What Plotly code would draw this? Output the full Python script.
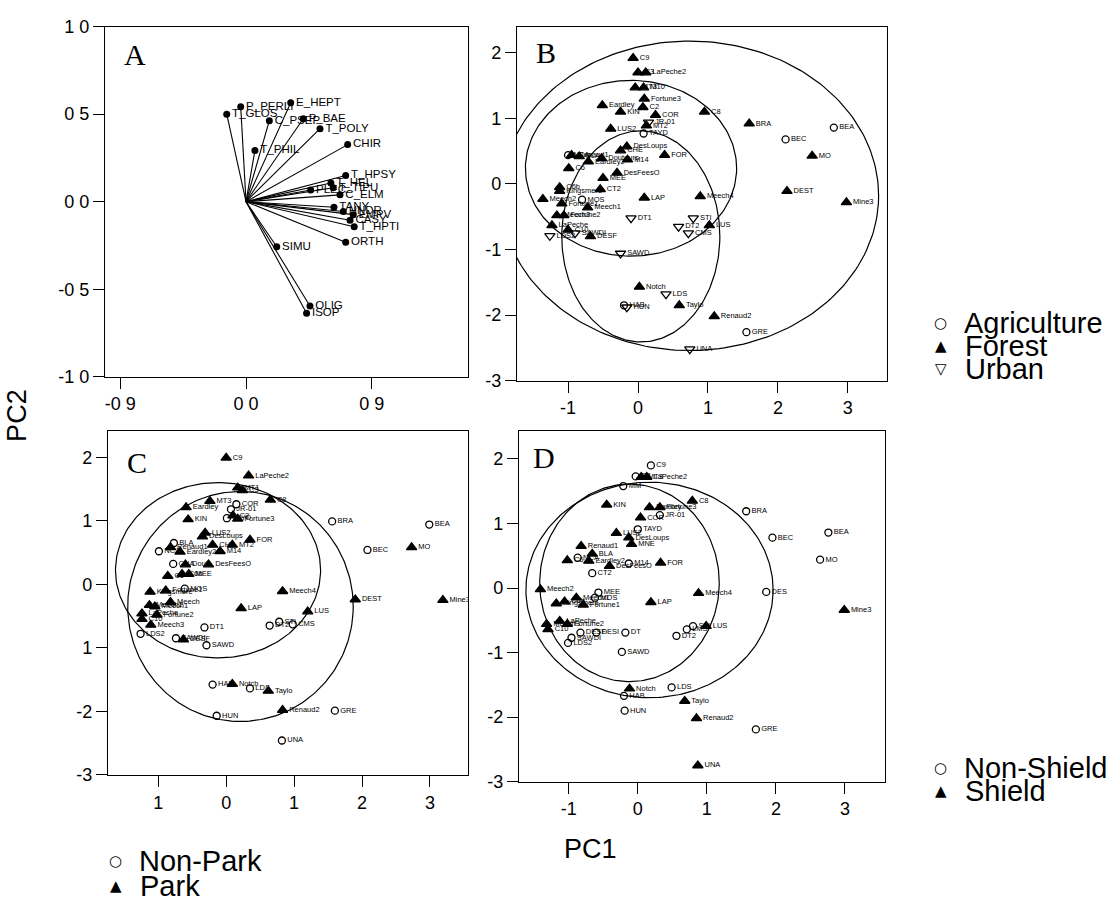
import numpy as np
import plotly.graph_objects as go

W, H = 1120, 910
SANS = "Liberation Sans, Arial, sans-serif"
SERIF = "Liberation Serif, Times New Roman, serif"

# ---------------- Panel A: variable loadings ----------------
A_vars = ["T_GLOS", "P_PERLI", "E_HEPT", "C_PSEP", "P_BAE", "T_POLY", "T_PHIL", "CHIR",
          "T_HPSY", "T_HEL", "T_TIPU", "PLEC", "C_ELM", "TANY", "HNDR", "EMPV", "CASY",
          "T_HPTI", "ORTH", "SIMU", "OLIG", "ISOP"]
A_pc1 = [-0.138, -0.038, 0.32, 0.167, 0.41, 0.53, 0.064, 0.728,
         0.714, 0.608, 0.625, 0.463, 0.673, 0.63, 0.697, 0.768, 0.745,
         0.775, 0.714, 0.22, 0.458, 0.434]
A_pc2 = [0.50, 0.543, 0.565, 0.463, 0.474, 0.417, 0.293, 0.326,
         0.15, 0.107, 0.08, 0.067, 0.039, -0.032, -0.056, -0.074, -0.106,
         -0.143, -0.232, -0.257, -0.596, -0.637]

# ---------------- Panel B: land use ----------------
B_sites = ["C9", "C3", "LaPeche2", "MT3", "M10", "Fortune3", "Eardley", "C2", "KIN", "COR",
           "C8", "JR-01", "MT2", "LUS2", "TAYD", "BRA", "BEA", "BEC", "MO", "DEST",
           "Mine3", "DesLoups", "CHE", "FOR", "M14", "NCA", "Renaud1", "BLA", "Eardley2", "Doutours",
           "C6", "DesFeesO", "MEE", "C6b", "Kingsmere", "CT2", "Meech2", "MOS", "LAP", "Meech4",
           "Fortune1", "Meech1", "Meech3", "Fortune2", "DT1", "STI", "LUS", "DT2", "CMS", "LaPeche",
           "C10", "SAWDI", "DESF", "LDS2", "SAWD", "Notch", "LDS", "HAB", "HUN", "Taylo",
           "Renaud2", "GRE", "UNA"]
B_pc1 = [-0.07, 0.00, 0.11, -0.04, 0.08, 0.09, -0.51, 0.07, -0.25, 0.25,
         0.95, 0.15, 0.12, -0.39, 0.08, 1.59, 2.80, 2.11, 2.49, 2.13,
         2.98, -0.16, -0.25, 0.38, -0.15, -1.00, -0.95, -0.84, -0.71, -0.52,
         -0.99, -0.30, -0.50, -1.12, -1.12, -0.54, -1.36, -0.80, 0.09, 0.89,
         -1.09, -0.72, -1.16, -1.06, -0.10, 0.79, 1.02, 0.58, 0.72, -1.23,
         -1.00, -0.90, -0.68, -1.26, -0.25, 0.02, 0.40, -0.20, -0.16, 0.59,
         1.09, 1.55, 0.74]
B_pc2 = [1.92, 1.70, 1.70, 1.47, 1.47, 1.30, 1.20, 1.17, 1.10, 1.05,
         1.10, 0.94, 0.89, 0.84, 0.77, 0.92, 0.86, 0.68, 0.43, -0.11,
         -0.28, 0.57, 0.51, 0.44, 0.37, 0.44, 0.44, 0.42, 0.34, 0.39,
         0.24, 0.17, 0.09, -0.05, -0.11, -0.08, -0.23, -0.24, -0.21, -0.19,
         -0.30, -0.36, -0.48, -0.48, -0.52, -0.52, -0.63, -0.65, -0.75, -0.63,
         -0.70, -0.75, -0.80, -0.79, -1.06, -1.57, -1.68, -1.85, -1.88, -1.85,
         -2.02, -2.26, -2.52]
B_landuse = ["Forest", "Forest", "Forest", "Forest", "Forest", "Forest", "Forest", "Forest", "Forest", "Forest",
             "Forest", "Urban", "Forest", "Forest", "Agriculture", "Forest", "Agriculture", "Agriculture", "Forest", "Forest",
             "Forest", "Forest", "Forest", "Forest", "Forest", "Agriculture", "Forest", "Forest", "Forest", "Forest",
             "Forest", "Forest", "Forest", "Forest", "Forest", "Forest", "Forest", "Agriculture", "Forest", "Forest",
             "Forest", "Forest", "Forest", "Forest", "Urban", "Urban", "Forest", "Urban", "Urban", "Forest",
             "Forest", "Urban", "Forest", "Urban", "Urban", "Forest", "Urban", "Agriculture", "Urban", "Forest",
             "Forest", "Agriculture", "Urban"]
B_ell_cx = [0.74, -0.10, 0.04]
B_ell_cy = [-0.18, 0.24, -0.80]
B_ell_rx = [2.70, 1.51, 1.13]
B_ell_ry = [2.36, 1.34, 1.61]

# ---------------- Panel C: park status ----------------
C_sites = ["C9", "LaPeche2", "MT1", "C3", "C8", "MT3", "COR", "Eardley", "JR-01", "C2",
           "Fortune3", "TAYD", "KIN", "BRA", "BEA", "LUS2", "DesLoups", "FOR", "MT2", "CHE",
           "M14", "BLA", "Renaud1", "NCA", "Eardley2", "BEC", "MO", "CHA", "Dout", "DesFeesO",
           "C6", "C6b", "MEE", "Kingsmere", "Fortune1", "MOS", "Meech4", "DEST", "Mine3", "Meech",
           "Meech2", "Meech1", "LAP", "LUS", "LaPeche", "C10", "Fortune2", "Meech3", "STI", "DT2",
           "CMS", "DT1", "LDS2", "SAWDI", "DESF", "SAWD", "HAB", "Notch", "LDS", "Taylo",
           "Renaud2", "GRE", "HUN", "UNA"]
C_pc1 = [0.00, 0.33, 0.17, 0.24, 0.65, -0.24, 0.15, -0.59, 0.07, 0.10,
         0.17, 0.01, -0.56, 1.56, 2.99, -0.31, -0.35, 0.35, 0.09, -0.20,
         -0.09, -0.77, -0.82, -0.99, -0.68, 2.08, 2.73, -0.78, -0.60, -0.26,
         -0.86, -0.65, -0.55, -1.12, -0.89, -0.61, 0.83, 1.90, 3.19, -0.82,
         -1.13, -1.05, 0.22, 1.20, -1.24, -1.24, -1.02, -1.11, 0.78, 0.64,
         0.98, -0.32, -1.26, -0.74, -0.63, -0.29, -0.20, 0.09, 0.35, 0.62,
         0.83, 1.60, -0.14, 0.82]
C_pc2 = [1.99, 1.71, 1.52, 1.48, 1.33, 1.31, 1.26, 1.21, 1.18, 1.08,
         1.03, 1.04, 1.02, 0.99, 0.94, 0.81, 0.75, 0.70, 0.62, 0.62,
         0.52, 0.65, 0.58, 0.52, 0.51, 0.54, 0.58, 0.32, 0.31, 0.31,
         0.13, 0.16, 0.16, -0.12, -0.10, -0.07, -0.11, -0.24, -0.25, -0.28,
         -0.33, -0.35, -0.38, -0.43, -0.46, -0.55, -0.48, -0.64, -0.59, -0.65,
         -0.63, -0.68, -0.78, -0.85, -0.87, -0.96, -1.58, -1.57, -1.64, -1.68,
         -1.98, -1.99, -2.07, -2.46]
C_park = ["Park", "Park", "Park", "Park", "Park", "Park", "Non-Park", "Park", "Non-Park", "Park",
          "Park", "Non-Park", "Park", "Non-Park", "Non-Park", "Park", "Park", "Park", "Park", "Park",
          "Park", "Non-Park", "Park", "Non-Park", "Park", "Non-Park", "Park", "Non-Park", "Park", "Park",
          "Park", "Park", "Park", "Park", "Park", "Non-Park", "Park", "Park", "Park", "Park",
          "Park", "Park", "Park", "Park", "Park", "Park", "Park", "Park", "Non-Park", "Non-Park",
          "Non-Park", "Non-Park", "Non-Park", "Non-Park", "Park", "Non-Park", "Non-Park", "Park", "Non-Park", "Park",
          "Park", "Non-Park", "Non-Park", "Non-Park"]
C_ell_cx = [-0.12, 0.21]
C_ell_cy = [0.22, -0.35]
C_ell_rx = [1.51, 1.66]
C_ell_ry = [1.38, 1.81]

# ---------------- Panel D: shield ----------------
D_sites = ["C9", "C3", "MT3", "LaPeche2", "MM", "C8", "KIN", "Eardley", "Fortune3", "COR",
           "JR-01", "BRA", "TAYD", "LUS2", "DesLoups", "MNE", "BEC", "BEA", "Renaud1", "BLA",
           "C6", "NCA", "Eardley2", "MO", "M14", "DesFeesO", "FOR", "CT2", "Meech2", "MEE",
           "Meech4", "DES", "Kingsmere", "C6b", "Meech1", "MOS", "Fortune1", "LAP", "Mine3", "Meech3",
           "C10", "LaPeche", "Fortune2", "STI", "LMS", "LUS", "DESF", "DESI", "DT", "DT2",
           "SAWDI", "LDS2", "SAWD", "Notch", "LDS", "HAB", "Taylo", "HUN", "Renaud2", "GRE",
           "UNA"]
D_pc1 = [0.19, -0.03, 0.05, 0.13, -0.21, 0.79, -0.45, 0.17, 0.32, 0.04,
         0.32, 1.57, 0.00, -0.31, -0.13, -0.09, 1.95, 2.76, -0.82, -0.66,
         -1.02, -0.87, -0.71, 2.64, -0.13, -0.41, 0.33, -0.66, -1.41, -0.57,
         0.88, 1.86, -1.18, -1.06, -0.89, -0.62, -0.79, 0.19, 2.99, -1.32,
         -1.30, -1.13, -1.02, 0.80, 0.71, 0.99, -0.83, -0.60, -0.18, 0.56,
         -0.96, -1.01, -0.23, -0.12, 0.49, -0.20, 0.68, -0.19, 0.85, 1.71,
         0.87]
D_pc2 = [1.90, 1.73, 1.72, 1.72, 1.58, 1.35, 1.29, 1.25, 1.25, 1.09,
         1.13, 1.19, 0.91, 0.85, 0.78, 0.68, 0.78, 0.86, 0.65, 0.53,
         0.43, 0.47, 0.42, 0.44, 0.38, 0.34, 0.39, 0.23, -0.02, -0.07,
         -0.08, -0.06, -0.24, -0.21, -0.15, -0.15, -0.26, -0.22, -0.34, -0.56,
         -0.64, -0.51, -0.56, -0.59, -0.64, -0.59, -0.69, -0.69, -0.69, -0.74,
         -0.77, -0.85, -0.99, -1.56, -1.54, -1.67, -1.75, -1.90, -2.02, -2.19,
         -2.75]
D_shield = ["Non-Shield", "Non-Shield", "Shield", "Shield", "Non-Shield", "Shield", "Shield", "Shield", "Shield", "Shield",
            "Non-Shield", "Non-Shield", "Non-Shield", "Shield", "Shield", "Shield", "Non-Shield", "Non-Shield", "Shield", "Shield",
            "Shield", "Non-Shield", "Shield", "Non-Shield", "Non-Shield", "Shield", "Shield", "Non-Shield", "Shield", "Non-Shield",
            "Shield", "Non-Shield", "Shield", "Shield", "Shield", "Non-Shield", "Shield", "Shield", "Shield", "Shield",
            "Shield", "Shield", "Shield", "Non-Shield", "Non-Shield", "Shield", "Non-Shield", "Non-Shield", "Non-Shield", "Non-Shield",
            "Non-Shield", "Non-Shield", "Non-Shield", "Shield", "Non-Shield", "Non-Shield", "Shield", "Non-Shield", "Shield", "Non-Shield",
            "Shield"]
D_ell_cx = [0.17, -0.12]
D_ell_cy = [-0.03, 0.08]
D_ell_rx = [1.79, 1.30]
D_ell_ry = [1.67, 1.53]

# ---------------- styles ----------------
SYMBOL = {
    "Agriculture": ("circle-open", 7), "Forest": ("triangle-up", 9), "Urban": ("triangle-down-open", 9),
    "Non-Park": ("circle-open", 7), "Park": ("triangle-up", 9),
    "Non-Shield": ("circle-open", 7), "Shield": ("triangle-up", 9),
}

fig = go.Figure()

# Panel A: lines from origin and points
lx, ly = [], []
for px, py in zip(A_pc1, A_pc2):
    lx += [0, px, None]
    ly += [0, py, None]
fig.add_trace(go.Scatter(x=lx, y=ly, mode="lines", line=dict(color="black", width=1.1),
                         xaxis="x", yaxis="y", hoverinfo="skip", showlegend=False))
fig.add_trace(go.Scatter(x=A_pc1, y=A_pc2, text=A_vars, mode="markers+text",
                         textposition="middle right",
                         textfont=dict(family=SANS, size=11.5, color="black"),
                         marker=dict(symbol="circle", size=7, color="black"),
                         xaxis="x", yaxis="y", showlegend=False))

# ellipses drawn as clipped line traces (outline of each ellipse parameter set)
theta = np.linspace(0, 2 * np.pi, 241)
for (cxs, cys, rxs, rys, xr, yr) in [
    (B_ell_cx, B_ell_cy, B_ell_rx, B_ell_ry, "x2", "y2"),
    (C_ell_cx, C_ell_cy, C_ell_rx, C_ell_ry, "x3", "y3"),
    (D_ell_cx, D_ell_cy, D_ell_rx, D_ell_ry, "x4", "y4"),
]:
    for cx, cy, rx, ry in zip(cxs, cys, rxs, rys):
        fig.add_trace(go.Scatter(x=cx + rx * np.cos(theta), y=cy + ry * np.sin(theta),
                                 mode="lines", line=dict(color="black", width=1.2),
                                 xaxis=xr, yaxis=yr, hoverinfo="skip", showlegend=False))


def add_sites(names, xs, ys, groups, xa, ya):
    for g in dict.fromkeys(groups):
        idx = [i for i, gg in enumerate(groups) if gg == g]
        sym, size = SYMBOL[g]
        fig.add_trace(go.Scatter(
            x=[xs[i] for i in idx], y=[ys[i] for i in idx], text=[names[i] for i in idx],
            mode="markers+text", textposition="middle right",
            textfont=dict(family=SANS, size=7.5, color="black"),
            marker=dict(symbol=sym, size=size, color="black", line=dict(color="black", width=1.3)),
            xaxis=xa, yaxis=ya, showlegend=False, name=g))


add_sites(B_sites, B_pc1, B_pc2, B_landuse, "x2", "y2")
add_sites(C_sites, C_pc1, C_pc2, C_park, "x3", "y3")
add_sites(D_sites, D_pc1, D_pc2, D_shield, "x4", "y4")


def axis(domain, rng, tickvals, ticktext, anchor):
    return dict(domain=domain, range=rng, tickvals=tickvals, ticktext=ticktext, anchor=anchor,
                showline=True, mirror=True, linecolor="black", linewidth=1.2,
                ticks="outside", ticklen=11, tickwidth=1.2, tickcolor="black",
                showgrid=False, zeroline=False, fixedrange=True,
                tickfont=dict(family=SANS, size=18, color="black"))


def px_x(p):
    return p / W


def px_y(p):
    return 1 - p / H


fig.update_layout(
    width=W, height=H, margin=dict(l=0, r=0, t=0, b=0),
    paper_bgcolor="white", plot_bgcolor="white", showlegend=False,
    xaxis=axis([px_x(105), px_x(468)], [-1.01, 1.59], [-0.9, 0, 0.9], ["-0 9", "0 0", "0 9"], "y"),
    yaxis=axis([px_y(375), px_y(17)], [-1.0, 1.0], [1.0, 0.5, 0, -0.5, -1.0],
               ["1 0", "0 5", "0 0", "-0 5", "-1 0"], "x"),
    xaxis2=axis([px_x(517), px_x(887)], [-1.73, 3.56], [-1, 0, 1, 2, 3], ["-1", "0", "1", "2", "3"], "y2"),
    yaxis2=axis([px_y(379), px_y(17)], [-3.0, 2.40], [2, 1, 0, -1, -2, -3],
                ["2", "1", "0", "-1", "-2", "-3"], "x2"),
    xaxis3=axis([px_x(108), px_x(468)], [-1.74, 3.56], [-1, 0, 1, 2, 3], ["1", "0", "1", "2", "3"], "y3"),
    yaxis3=axis([px_y(782), px_y(430)], [-3.0, 2.42], [2, 1, 0, -1, -2, -3],
                ["2", "1", "0", "1", "-2", "-3"], "x3"),
    xaxis4=axis([px_x(519), px_x(885)], [-1.72, 3.58], [-1, 0, 1, 2, 3], ["-1", "0", "1", "2", "3"], "y4"),
    yaxis4=axis([px_y(789), px_y(430)], [-3.0, 2.44], [2, 1, 0, -1, -2, -3],
                ["2", "1", "0", "-1", "-2", "-3"], "x4"),
)

ann = []
# panel letters
for letter, (x, y) in {"A": (135, 46), "B": (546, 43), "C": (137, 463), "D": (544, 458)}.items():
    ann.append(dict(text=letter, x=px_x(x), y=px_y(y), xref="paper", yref="paper", showarrow=False,
                    xanchor="center", yanchor="middle", font=dict(family=SERIF, size=30, color="black")))

# axis titles
ann.append(dict(text="PC2", x=px_x(17), y=px_y(415), xref="paper", yref="paper", showarrow=False,
                textangle=-90, xanchor="center", yanchor="middle", font=dict(family=SANS, size=27, color="black")))
ann.append(dict(text="PC1", x=px_x(590), y=px_y(858), xref="paper", yref="paper", showarrow=False,
                xanchor="center", yanchor="middle", font=dict(family=SANS, size=27, color="black")))

# legends
legend_items = [
    ("○", "Agriculture", 940, 320), ("▲", "Forest", 941, 344), ("▽", "Urban", 941, 367),
    ("○", "Non-Shield", 940, 775), ("▲", "Shield", 941, 799),
    ("○", "Non-Park", 115, 870), ("▲", "Park", 116, 896),
]
for sym, label, x, y in legend_items:
    ann.append(dict(text=sym, x=px_x(x), y=px_y(y), xref="paper", yref="paper", showarrow=False,
                    xanchor="center", yanchor="middle", font=dict(family="DejaVu Sans", size=15, color="black")))
    ann.append(dict(text=label, x=px_x(x + 22), y=px_y(y), xref="paper", yref="paper", showarrow=False,
                    xanchor="left", yanchor="middle", font=dict(family=SANS, size=29, color="black")))

fig.update_layout(annotations=ann)
fig.write_html("out.html")
